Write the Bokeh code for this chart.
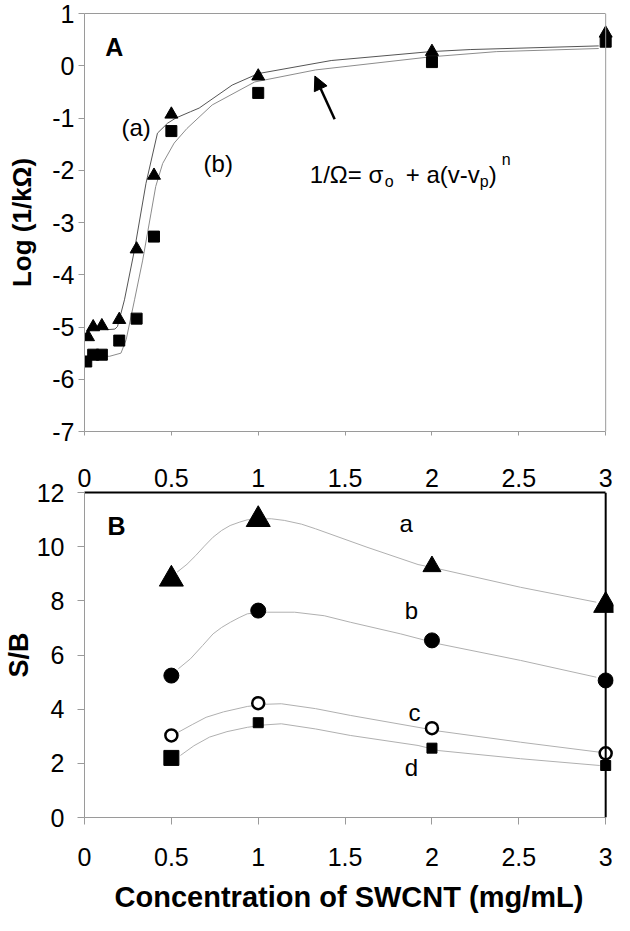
from bokeh.plotting import figure
from bokeh.models import Range1d, FixedTicker, Span, Arrow, NormalHead, LinearAxis
from bokeh.layouts import column
from bokeh.core.properties import value
from bokeh.embed import file_html
from bokeh.resources import INLINE

FONT = "Liberation Sans"

# ---------------- Panel A data ----------------
xA_ticks = [0, 0.5, 1, 1.5, 2, 2.5, 3]
xA_labels = ["0", "0.5", "1", "1.5", "2", "2.5", "3"]
yA_ticks = [-7, -6, -5, -4, -3, -2, -1, 0, 1]
yA_labels = ["-7", "-6", "-5", "-4", "-3", "-2", "-1", "0", "1"]

conc_a = [0.02, 0.05, 0.1, 0.2, 0.3, 0.4, 0.5, 1, 2, 3]
log_a = [-5.19, -5.0, -4.98, -4.86, -3.51, -2.1, -0.93, -0.2, 0.27, 0.62]
conc_b = [0.01, 0.05, 0.1, 0.2, 0.3, 0.4, 0.5, 1, 2, 3]
log_b = [-5.66, -5.53, -5.53, -5.26, -4.84, -3.27, -1.25, -0.52, 0.07, 0.46]

fitA_a_x = [0.02, 0.05, 0.1, 0.135, 0.175, 0.19, 0.23, 0.288, 0.354, 0.42, 0.478,
            0.526, 0.61, 0.66, 0.85, 1.0, 1.42, 1.99, 2.22, 2.96]
fitA_a_y = [-5.1, -5.03, -5.04, -5.05, -5.04, -4.99, -4.48, -3.52, -2.25, -1.29, -1.1,
            -1.0, -0.88, -0.81, -0.37, -0.15, 0.1, 0.27, 0.31, 0.38]
fitA_b_x = [0.05, 0.1, 0.145, 0.21, 0.24, 0.288, 0.335, 0.383, 0.41, 0.45, 0.516,
            0.59, 0.735, 0.98, 1.33, 1.99, 2.37, 2.96]
fitA_b_y = [-5.55, -5.56, -5.56, -5.5, -5.24, -4.48, -3.72, -2.82, -2.31, -1.87, -1.48,
            -1.2, -0.75, -0.31, -0.08, 0.17, 0.27, 0.33]

# ---------------- Panel B data ----------------
xB_ticks = [0, 0.5, 1, 1.5, 2, 2.5, 3]
xB_labels = ["0", "0.5", "1", "1.5", "2", "2.5", "3"]
yB_ticks = [0, 2, 4, 6, 8, 10, 12]
yB_labels = ["0", "2", "4", "6", "8", "10", "12"]

concB = [0.5, 1, 2, 3]
sb_a = [8.8, 11.0, 9.27, 7.83]
sb_b = [5.24, 7.64, 6.54, 5.06]
sb_c = [3.03, 4.22, 3.3, 2.37]
sb_d = [2.2, 3.5, 2.56, 1.92]

fitB_a_x = [0.533, 0.59, 0.64, 0.69, 0.74, 0.79, 0.838, 0.89, 0.936, 1.0, 1.075, 1.15,
            1.25, 1.33, 1.626, 1.92, 2.04, 2.51, 2.946]
fitB_a_y = [9.06, 9.35, 9.67, 10.02, 10.35, 10.6, 10.78, 10.9, 10.99, 11.03, 11.03, 10.97,
            10.83, 10.66, 9.98, 9.34, 9.18, 8.5, 7.95]
fitB_b_x = [0.54, 0.61, 0.68, 0.74, 0.79, 0.84, 0.89, 0.937, 1.0, 1.054, 1.21, 1.38,
            1.53, 1.82, 2.04, 2.51, 2.946]
fitB_b_y = [5.49, 5.86, 6.35, 6.78, 7.02, 7.21, 7.38, 7.52, 7.57, 7.58, 7.58, 7.45,
            7.21, 6.78, 6.41, 5.8, 5.18]
fitB_c_x = [0.54, 0.62, 0.70, 0.80, 0.937, 1.04, 1.133, 1.33, 1.53, 1.92, 2.04, 2.51, 2.966]
fitB_c_y = [3.15, 3.43, 3.70, 3.9, 4.1, 4.18, 4.2, 4.02, 3.77, 3.33, 3.19, 2.78, 2.41]
fitB_d_x = [0.552, 0.63, 0.72, 0.82, 0.937, 1.04, 1.133, 1.33, 1.53, 1.92, 2.04, 2.51, 2.966]
fitB_d_y = [2.29, 2.65, 2.97, 3.17, 3.33, 3.42, 3.46, 3.27, 3.03, 2.66, 2.47, 2.17, 1.92]

# styles (marker sizes per point)
size_tri_B = [24, 24, 18, 24]
size_sq_B = [15, 10, 10, 10]

AXIS_GRAY = "#9a9a9a"
X_END = 3.045  # a little room so the markers at x = 3 are not cut


def style_axis(ax, ticks, labels, tick_in, tick_out, standoff, color=AXIS_GRAY):
    ax.ticker = FixedTicker(ticks=ticks)
    ax.major_label_overrides = {t: l for t, l in zip(ticks, labels)}
    ax.minor_tick_line_color = None
    ax.axis_line_color = color
    ax.major_tick_line_color = color
    ax.major_tick_in = tick_in
    ax.major_tick_out = tick_out
    ax.major_label_standoff = standoff
    ax.major_label_text_font = FONT
    ax.major_label_text_font_size = "25px"
    ax.major_label_text_color = "black"
    ax.axis_label_text_font = FONT
    ax.axis_label_text_font_style = "bold"
    ax.axis_label_text_color = "black"


def line_only_axis(ax, ticks, color, tick_out=0):
    # axis that draws its line (and optional tick marks) but paints no labels
    ax.ticker = FixedTicker(ticks=ticks)
    ax.bounds = (ticks[0], ticks[-1])
    ax.axis_line_color = color
    ax.major_tick_line_color = color if tick_out else None
    ax.major_tick_in = 0
    ax.major_tick_out = tick_out
    ax.minor_tick_line_color = None
    ax.major_label_text_color = None
    ax.major_label_text_font_size = "1px"
    ax.major_label_standoff = 0


# ================= Panel A =================
pA = figure(width=614, height=447, x_range=Range1d(0, X_END), y_range=Range1d(-7, 1),
            output_backend="svg", toolbar_location=None,
            min_border_left=80, min_border_right=1, min_border_top=13, min_border_bottom=16)
pA.grid.visible = False
pA.outline_line_color = None
pA.background_fill_color = "white"
pA.border_fill_color = "white"

line_only_axis(pA.xaxis[0], xA_ticks, AXIS_GRAY, tick_out=4)

style_axis(pA.yaxis[0], yA_ticks, yA_labels, 0, 6, 4)
pA.yaxis[0].axis_label = "Log (1/kΩ)"
pA.yaxis[0].axis_label_text_font_size = "26px"
pA.yaxis[0].axis_label_standoff = 12

topA = LinearAxis()
line_only_axis(topA, xA_ticks, AXIS_GRAY)
pA.add_layout(topA, "above")
pA.add_layout(Span(location=xA_ticks[-1], dimension="height", line_color=AXIS_GRAY, line_width=1))

pA.line(fitA_a_x, fitA_a_y, line_color="#555555", line_width=1)
pA.line(fitA_b_x, fitA_b_y, line_color="#8c8c8c", line_width=1)
pA.scatter(conc_a, log_a, marker="triangle", size=13, fill_color="black", line_color="black")
pA.scatter(conc_b, log_b, marker="square", size=11, fill_color="black", line_color="black")

pA.text(x=[0.171], y=[0.357], text=["A"], text_font=value(FONT), text_font_size="25px",
        text_font_style="bold", text_align="center", text_baseline="middle")
pA.text(x=[0.297, 0.77], y=[-1.19, -1.88], text=["(a)", "(b)"], text_font=value(FONT),
        text_font_size="24px", text_align="center", text_baseline="middle")

# formula: 1/Ω = σo + a(v - vp)^n
fx, fy = 1.297, -2.09
pieces = [("1/Ω= σ", 0, 0, "24px"), ("o", 75, 7, "16px"), ("+ a(v-v", 96, 0, "24px"),
          ("p", 170, 7, "16px"), (")", 179, 0, "24px"), ("n", 192, -15, "16px")]
for txt, dx, dy, fs in pieces:
    pA.text(x=[fx], y=[fy], text=[txt], x_offset=dx, y_offset=dy, text_font=value(FONT),
            text_font_size=fs, text_align="left", text_baseline="alphabetic")

pA.add_layout(Arrow(end=NormalHead(size=14, fill_color="black", line_color="black"),
                    x_start=1.44, y_start=-1.025, x_end=1.326, y_end=-0.197,
                    line_width=2.5, line_color="black"))

# ================= Panel B =================
pB = figure(width=614, height=478, x_range=Range1d(0, X_END), y_range=Range1d(0, 12),
            output_backend="svg", toolbar_location=None,
            min_border_left=81, min_border_right=1, min_border_top=45, min_border_bottom=108)
pB.grid.visible = False
pB.outline_line_color = None
pB.background_fill_color = "white"
pB.border_fill_color = "white"

style_axis(pB.xaxis[0], xB_ticks, xB_labels, 0, 7, 23)
pB.xaxis[0].bounds = (xB_ticks[0], xB_ticks[-1])
style_axis(pB.yaxis[0], yB_ticks, yB_labels, 0, 7, 13)
pB.xaxis[0].axis_label = "Concentration of SWCNT (mg/mL)"
pB.xaxis[0].axis_label_text_font_size = "29px"
pB.xaxis[0].axis_label_standoff = 12
pB.yaxis[0].axis_label = "S/B"
pB.yaxis[0].axis_label_text_font_size = "27px"
pB.yaxis[0].axis_label_standoff = 0

# black top axis carrying the 0 ... 3 labels shown between the two panels
topB = LinearAxis()
style_axis(topB, xA_ticks, xA_labels, 0, 0, 6, color="black")
topB.bounds = (xA_ticks[0], xA_ticks[-1])
topB.axis_line_width = 2
pB.add_layout(topB, "above")
pB.add_layout(Span(location=xB_ticks[-1], dimension="height", line_color="black", line_width=2))

LG = "#b0b0b0"
pB.line(fitB_a_x, fitB_a_y, line_color=LG, line_width=1)
pB.line(fitB_b_x, fitB_b_y, line_color=LG, line_width=1)
pB.line(fitB_c_x, fitB_c_y, line_color=LG, line_width=1)
pB.line(fitB_d_x, fitB_d_y, line_color=LG, line_width=1)

pB.scatter(concB, sb_a, marker="triangle", size=size_tri_B, fill_color="black", line_color="black")
pB.scatter(concB, sb_b, marker="circle", size=15, fill_color="black", line_color="black")
pB.scatter(concB, sb_c, marker="circle", size=12, fill_color="white", line_color="black", line_width=2.5)
pB.scatter(concB, sb_d, marker="square", size=size_sq_B, fill_color="black", line_color="black")

pB.text(x=[0.184], y=[10.78], text=["B"], text_font=value(FONT), text_font_size="25px",
        text_font_style="bold", text_align="center", text_baseline="middle")
pB.text(x=[1.852, 1.882, 1.9, 1.882], y=[10.85, 7.64, 3.89, 1.84], text=["a", "b", "c", "d"],
        text_font=value(FONT), text_font_size="24px", text_align="center", text_baseline="middle")

layout = column(pA, pB, spacing=0)
open("out.html", "w").write(file_html(layout, INLINE))
